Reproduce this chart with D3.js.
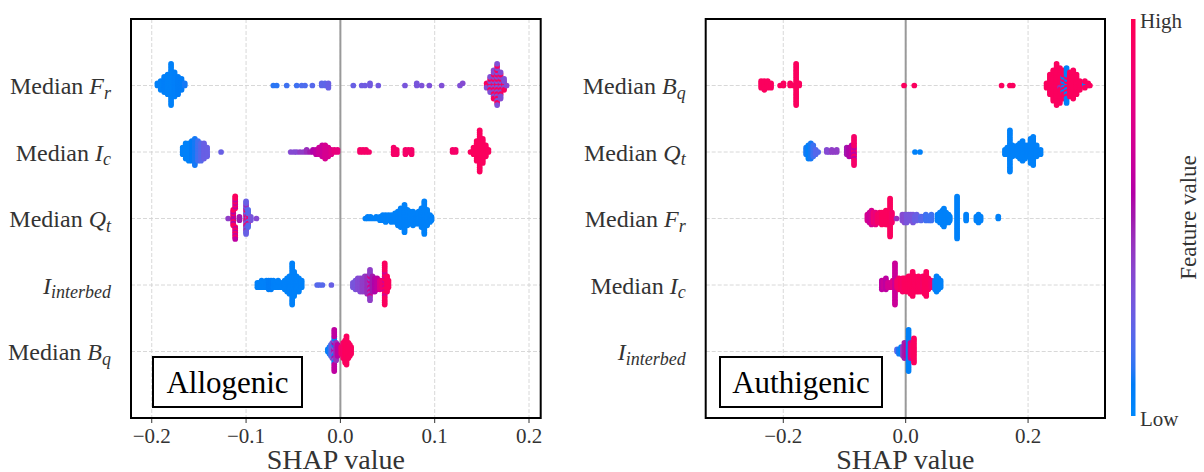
<!DOCTYPE html>
<html><head><meta charset="utf-8">
<script src="https://cdn.jsdelivr.net/npm/d3@7"></script>
<style>body{margin:0;background:#fff} svg{display:block}</style>
</head><body>
<svg id="c" width="1204" height="472"></svg>
<script>
// ---------------- DATA ----------------
const alloFeatures = ["Median F_r","Median I_c","Median Q_t","I_interbed","Median B_q"];
const authFeatures = ["Median B_q","Median Q_t","Median F_r","Median I_c","I_interbed"];
const alloTicks = [-0.2,-0.1,0.0,0.1,0.2];
const authTicks = [-0.2,0.0,0.2];
const alloDomain = [-0.222, 0.2124];
const authDomain = [-0.3268, 0.3257];
const alloTitle = "Allogenic";
const authTitle = "Authigenic";
const cbarLabels = ["High","Low"];
// each entry: [SHAP value, normalized feature value (0=low,1=high), number of samples]
const allo_Fr = [
 [-0.1940,0.05,2],[-0.1905,0.05,5],[-0.1868,0.06,8],[-0.1831,0.05,10],[-0.1795,0.05,20],[-0.1758,0.06,12],[-0.1721,0.08,9],[-0.1684,0.08,6],[-0.1650,0.1,2],
 [-0.0711,0.12,1],[-0.0675,0.12,1],[-0.0569,0.15,1],[-0.0463,0.15,1],[-0.0410,0.18,1],[-0.0375,0.18,1],[-0.0297,0.2,1],[-0.0198,0.22,2],[-0.0163,0.22,2],[-0.0127,0.25,3],
 [0.0137,0.25,1],[0.0226,0.27,1],[0.0261,0.27,1],[0.0314,0.28,2],[0.0402,0.28,1],[0.0685,0.3,1],[0.0810,0.3,2],[0.0862,0.32,1],[0.0943,0.32,1],[0.1074,0.33,1],[0.1268,0.33,1],[0.1297,0.35,1],
 [0.1551,0.95,2],[0.1551,0.35,1],[0.1588,0.95,4],[0.1588,0.33,4],[0.1625,0.95,7],[0.1625,0.35,7],[0.1662,0.95,10],[0.1662,0.33,10],[0.1699,0.95,6],[0.1699,0.35,7],[0.1736,0.95,3],[0.1736,0.33,3],[0.1763,0.35,1]
];
const allo_Ic = [
 [-0.1672,0.05,4],[-0.1640,0.05,8],[-0.1607,0.05,9],[-0.1575,0.08,10],[-0.1543,0.1,13],[-0.1510,0.15,10],[-0.1478,0.2,9],[-0.1446,0.25,8],[-0.1413,0.25,5],[-0.1265,0.25,1],
 [-0.0526,0.35,1],[-0.0491,0.35,1],[-0.0463,0.35,1],[-0.0428,0.4,1],[-0.0392,0.4,1],[-0.0357,0.45,2],[-0.0322,0.5,1],
 [-0.0290,0.55,2],[-0.0258,0.6,3],[-0.0226,0.65,4],[-0.0193,0.65,6],[-0.0161,0.7,7],[-0.0128,0.7,5],[-0.0096,0.75,3],[-0.0064,0.8,2],[-0.0030,0.8,2],
 [0.0208,0.9,2],[0.0240,0.9,2],[0.0272,0.9,2],[0.0304,0.9,1],
 [0.0565,0.9,4],[0.0597,0.9,3],[0.0690,0.9,3],[0.0722,0.9,2],[0.0755,0.9,3],[0.1190,0.9,2],[0.1222,0.9,2],
 [0.1380,0.95,1],[0.1412,0.95,4],[0.1445,0.95,10],[0.1477,0.95,20],[0.1510,0.95,12],[0.1542,0.95,6],[0.1570,0.95,2]
];
const allo_Qt = [
 [-0.1190,0.4,1],[-0.1136,0.95,6],[-0.1136,0.55,4],[-0.1115,0.95,9],[-0.1115,0.6,7],[-0.1070,0.5,3],
 [-0.1000,0.25,10],[-0.1000,0.9,4],[-0.1000,0.45,6],[-0.0978,0.2,8],[-0.0978,0.85,3],[-0.0950,0.3,3],[-0.0890,0.35,1],
 [0.0265,0.05,1],[0.0290,0.05,2],[0.0320,0.05,2],[0.0350,0.05,1],[0.0380,0.05,2],
 [0.0420,0.05,3],[0.0450,0.05,4],[0.0480,0.05,5],[0.0510,0.05,4],[0.0540,0.05,5],
 [0.0580,0.05,6],[0.0610,0.05,9],[0.0640,0.05,12],[0.0680,0.05,17],[0.0710,0.05,10],
 [0.0740,0.05,8],[0.0770,0.05,9],[0.0800,0.05,7],[0.0830,0.05,8],[0.0860,0.05,12],
 [0.0890,0.05,20],[0.0920,0.05,10],[0.0950,0.05,5],[0.0966,0.05,3]
];
const allo_Iint = [
 [-0.0880,0.05,3],[-0.0860,0.05,3],[-0.0835,0.05,4],[-0.0810,0.05,3],[-0.0785,0.05,4],[-0.0760,0.08,5],[-0.0735,0.08,5],[-0.0710,0.05,4],[-0.0685,0.05,3],[-0.0660,0.05,4],[-0.0630,0.05,3],
 [-0.0590,0.05,5],[-0.0565,0.05,7],[-0.0540,0.05,9],[-0.0511,0.05,20],[-0.0490,0.05,12],[-0.0465,0.05,8],[-0.0440,0.05,7],[-0.0410,0.05,4],
 [-0.0246,0.2,1],[-0.0220,0.2,1],[-0.0190,0.2,1],[-0.0095,0.25,1],
 [0.0133,0.3,3],[0.0160,0.3,5],[0.0185,0.35,6],[0.0210,0.35,7],[0.0235,0.4,7],[0.0260,0.4,8],[0.0285,0.45,9],
 [0.0314,0.4,10],[0.0314,0.7,5],[0.0340,0.5,8],[0.0365,0.55,7],[0.0390,0.6,6],[0.0420,0.75,5],[0.0445,0.85,4],
 [0.0470,0.95,14],[0.0470,0.7,6],[0.0495,0.95,8],[0.0510,0.95,4]
];
const allo_Bq = [
 [-0.0133,0.05,2],[-0.0115,0.1,4],[-0.0100,0.15,6],[-0.0085,0.3,8],
 [-0.0065,0.6,12],[-0.0065,0.3,4],[-0.0065,0.05,4],[-0.0045,0.45,9],[-0.0030,0.6,6],
 [0.0010,0.9,4],[0.0030,0.9,8],[0.0050,0.95,11],[0.0065,0.95,14],[0.0085,0.95,8],[0.0100,0.95,6],[0.0114,0.95,4]
];
const auth_Bq = [
 [-0.2362,0.95,4],[-0.2310,0.95,5],[-0.2255,0.95,4],[-0.2200,0.95,3],
 [-0.2052,0.95,1],[-0.1997,0.95,2],[-0.1888,0.95,2],[-0.1834,0.95,1],[-0.1790,0.95,20],[-0.1740,0.95,2],
 [-0.0027,0.95,1],[0.0141,0.95,1],[0.1567,0.95,1],[0.1703,0.95,1],[0.1750,0.95,1],
 [0.2302,0.95,3],[0.2356,0.95,10],[0.2411,0.95,15],[0.2466,0.95,20],[0.2520,0.95,16],[0.2520,0.45,1],
 [0.2575,0.95,10],[0.2575,0.05,4],[0.2629,0.05,12],[0.2629,0.95,5],[0.2683,0.95,12],[0.2738,0.95,14],[0.2792,0.95,10],[0.2846,0.95,5],
 [0.2928,0.05,2],[0.2928,0.95,2],[0.2982,0.95,2],[0.3010,0.95,1]
];
const auth_Qt = [
 [-0.1627,0.1,4],[-0.1590,0.05,7],[-0.1550,0.1,8],[-0.1510,0.15,6],[-0.1470,0.2,3],[-0.1430,0.2,1],
 [-0.1290,0.35,2],[-0.1250,0.35,1],[-0.1208,0.4,2],[-0.1170,0.4,1],[-0.1127,0.4,2],
 [-0.0963,0.5,4],[-0.0925,0.55,5],[-0.0882,0.6,6],[-0.0844,0.9,11],[-0.0844,0.6,3],
 [0.0152,0.05,1],[0.0234,0.05,1],
 [0.1622,0.05,3],[0.1660,0.05,4],[0.1703,0.05,20],[0.1745,0.05,6],[0.1785,0.05,4],[0.1830,0.05,6],[0.1867,0.05,8],[0.1910,0.05,10],[0.1950,0.05,7],[0.1990,0.05,6],[0.2040,0.05,12],[0.2084,0.05,14],[0.2140,0.05,6],[0.2204,0.05,3]
];
const auth_Fr = [
 [-0.0625,0.7,4],[-0.0590,0.65,6],[-0.0558,0.7,8],[-0.0525,0.85,6],[-0.0491,0.8,7],[-0.0460,0.9,5],[-0.0425,0.9,6],[-0.0390,0.95,7],[-0.0355,0.95,6],[-0.0323,0.95,8],[-0.0290,0.95,7],
 [-0.0255,0.95,20],[-0.0225,0.9,6],
 [-0.0150,0.45,1],[-0.0054,0.35,4],[-0.0020,0.35,5],[0.0015,0.3,5],[0.0050,0.3,4],[0.0085,0.3,4],[0.0120,0.3,5],[0.0150,0.25,3],[0.0180,0.25,4],
 [0.0250,0.2,3],[0.0290,0.2,2],[0.0330,0.15,4],[0.0380,0.15,3],[0.0420,0.15,4],
 [0.0520,0.05,4],[0.0560,0.05,6],[0.0600,0.05,8],[0.0625,0.05,10],[0.0660,0.05,6],[0.0700,0.05,5],[0.0720,0.05,3],
 [0.0840,0.05,22],[0.0988,0.05,4],[0.1156,0.05,3],[0.1190,0.05,5],[0.1224,0.05,3],[0.1513,0.05,2]
];
const auth_Ic = [
 [-0.0390,0.6,5],[-0.0360,0.65,4],[-0.0323,0.6,6],[-0.0290,0.7,3],[-0.0250,0.7,3],[-0.0210,0.75,4],
 [-0.0175,0.65,20],
 [-0.0140,0.9,4],[-0.0110,0.9,6],[-0.0080,0.95,5],[-0.0050,0.9,7],[-0.0020,0.95,6],[0.0010,0.95,7],[0.0047,0.95,8],[0.0080,0.95,9],
 [0.0114,0.95,12],[0.0145,0.95,8],[0.0180,0.95,7],[0.0210,0.95,8],[0.0245,0.95,7],[0.0280,0.9,8],[0.0310,0.95,9],[0.0336,0.95,12],[0.0370,0.95,6],[0.0417,0.9,4],
 [0.0480,0.1,5],[0.0504,0.05,8],[0.0535,0.05,6],[0.0571,0.05,4]
];
const auth_Iint = [
 [-0.0141,0.2,2],[-0.0110,0.1,3],[-0.0074,0.05,4],[-0.0045,0.4,5],[-0.0020,0.5,8],[0.0015,0.6,6],
 [0.0047,0.05,20],[0.0080,0.7,8],[0.0105,0.9,6],[0.0135,0.95,12]
];
const alloRows = [allo_Fr, allo_Ic, allo_Qt, allo_Iint, allo_Bq];
const authRows = [auth_Bq, auth_Qt, auth_Fr, auth_Ic, auth_Iint];

// ---------------- DRAWING ----------------
const FONT = "'Liberation Serif','Times New Roman',serif";
const svg = d3.select("#c");
const TOP = 19, BOTTOM = 418;

// SHAP red_blue colormap (LCh interpolation)
function cmap(t){
  t = Math.max(0, Math.min(1, t));
  const L = t < 0.5 ? 54 + (40-54)*(t/0.5) : 40 + (54-40)*((t-0.5)/0.5);
  const C = 70 + 20*t;
  const H = 266.93 + 113.39*t;
  return d3.hcl(H, C, L).formatHex();
}

function expand(triples){
  const groups = d3.groups(triples, d => d[0]);
  const out = [];
  for (const [v, arr] of groups){
    const qs = arr.map(d => ({f:d[1], n:d[2]}));
    let rem = d3.sum(qs, q => q.n);
    while (rem > 0){
      for (const q of qs){
        for (let k=0;k<2 && q.n>0;k++){ out.push({v, f:q.f}); q.n--; rem--; }
      }
    }
  }
  return out;
}
function swarm(points){
  const mn = d3.min(points, p=>p.v), mx = d3.max(points, p=>p.v);
  const nbins = 100;
  points.forEach(p => p.q = Math.round(nbins*(p.v-mn)/(mx-mn+1e-8)));
  const order = d3.range(points.length).sort((a,b) => points[a].q-points[b].q || a-b);
  let layer = 0, last = -1;
  for (const i of order){
    if (points[i].q !== last) layer = 0;
    points[i].ys = Math.ceil(layer/2)*((layer%2)*2-1);
    layer++; last = points[i].q;
  }
  const m = d3.max(points, p => p.ys+1);
  points.forEach(p => p.ys *= 0.9*(0.4/m));
  return points;
}

function label(sel, str){
  const m = str.match(/^(.*?)([A-Za-z])_(\w+)$/);
  if (!m){ sel.text(str); return; }
  if (m[1]) sel.append("tspan").text(m[1]);
  sel.append("tspan").attr("font-style","italic").text(m[2]);
  sel.append("tspan").attr("font-style","italic").attr("font-size",18).attr("dy",4.5).text(m[3]);
}

function panel(x0, x1, domain, ticks, features, rows, title, boxX0, boxX1){
  const g = svg.append("g");
  const x = d3.scaleLinear().domain(domain).range([x0, x1]);
  const n = features.length;
  const y = d3.scaleLinear().domain([-1, n]).range([BOTTOM, TOP]);
  // grid
  g.selectAll(".vg").data(ticks).join("line")
    .attr("x1", d=>x(d)).attr("x2", d=>x(d)).attr("y1", TOP).attr("y2", BOTTOM)
    .attr("stroke","#d4d4d4").attr("stroke-width",0.9).attr("stroke-dasharray","4,2");
  g.selectAll(".hg").data(features).join("line")
    .attr("x1", x0).attr("x2", x1).attr("y1", (d,i)=>y(n-1-i)).attr("y2",(d,i)=>y(n-1-i))
    .attr("stroke","#d4d4d4").attr("stroke-width",0.9).attr("stroke-dasharray","4,2");
  // zero line
  g.append("line").attr("x1",x(0)).attr("x2",x(0)).attr("y1",TOP).attr("y2",BOTTOM)
    .attr("stroke","#999999").attr("stroke-width",2);
  // points
  rows.forEach((row, i) => {
    const pts = swarm(expand(row));
    g.append("g").selectAll("circle").data(pts).join("circle")
      .attr("cx", d => x(d.v)).attr("cy", d => y(n-1-i + d.ys))
      .attr("r", 2.85).attr("fill", d => cmap(d.f));
  });
  // frame
  g.append("rect").attr("x",x0).attr("y",TOP).attr("width",x1-x0).attr("height",BOTTOM-TOP)
    .attr("fill","none").attr("stroke","#000").attr("stroke-width",2);
  // x ticks
  g.selectAll(".tk").data(ticks).join("line")
    .attr("x1",d=>x(d)).attr("x2",d=>x(d)).attr("y1",BOTTOM+1).attr("y2",BOTTOM+5)
    .attr("stroke","#333").attr("stroke-width",1);
  g.selectAll(".tl").data(ticks).join("text")
    .attr("x",d=>x(d)).attr("y",443).attr("text-anchor","middle")
    .attr("font-family",FONT).attr("font-size",21).attr("fill","#333")
    .text(d => d3.format(".1f")(d).replace("-","\u2212"));
  g.append("text").attr("x",(x0+x1)/2).attr("y",469).attr("text-anchor","middle")
    .attr("font-family",FONT).attr("font-size",28).attr("fill","#333").text("SHAP value");
  // y labels
  features.forEach((f,i) => {
    const t = g.append("text").attr("x", x0-20).attr("y", y(n-1-i)+8.5)
      .attr("text-anchor","end").attr("font-family",FONT).attr("font-size",24).attr("fill","#333");
    label(t, f);
  });
  // title box
  g.append("rect").attr("x",boxX0).attr("y",357).attr("width",boxX1-boxX0).attr("height",50)
    .attr("fill","#fff").attr("stroke","#000").attr("stroke-width",2);
  g.append("text").attr("x",(boxX0+boxX1)/2).attr("y",393).attr("text-anchor","middle")
    .attr("font-family",FONT).attr("font-size",31).attr("fill","#000").text(title);
}

panel(131, 540.7, alloDomain, alloTicks, alloFeatures, alloRows, alloTitle, 153, 302);
panel(705.7, 1105, authDomain, authTicks, authFeatures, authRows, authTitle, 720, 882);

// colorbar
const defs = svg.append("defs");
const grad = defs.append("linearGradient").attr("id","cb").attr("x1",0).attr("y1",1).attr("x2",0).attr("y2",0);
d3.range(0,1.0001,0.02).forEach(t => grad.append("stop").attr("offset",t).attr("stop-color",cmap(t)));
const cbTop = 19, cbBot = 416;
svg.append("rect").attr("x",1131).attr("y",cbTop).attr("width",4.5).attr("height",cbBot-cbTop).attr("fill","url(#cb)");
svg.append("text").attr("x",1140).attr("y",cbTop+9).attr("font-family",FONT).attr("font-size",21).attr("fill","#333").text(cbarLabels[0]);
svg.append("text").attr("x",1140).attr("y",cbBot+10).attr("font-family",FONT).attr("font-size",21).attr("fill","#333").text(cbarLabels[1]);
svg.append("text").attr("transform",`translate(1196,${(cbTop+cbBot)/2}) rotate(-90)`).attr("text-anchor","middle")
  .attr("font-family",FONT).attr("font-size",23).attr("fill","#333").text("Feature value");
</script>
</body></html>
